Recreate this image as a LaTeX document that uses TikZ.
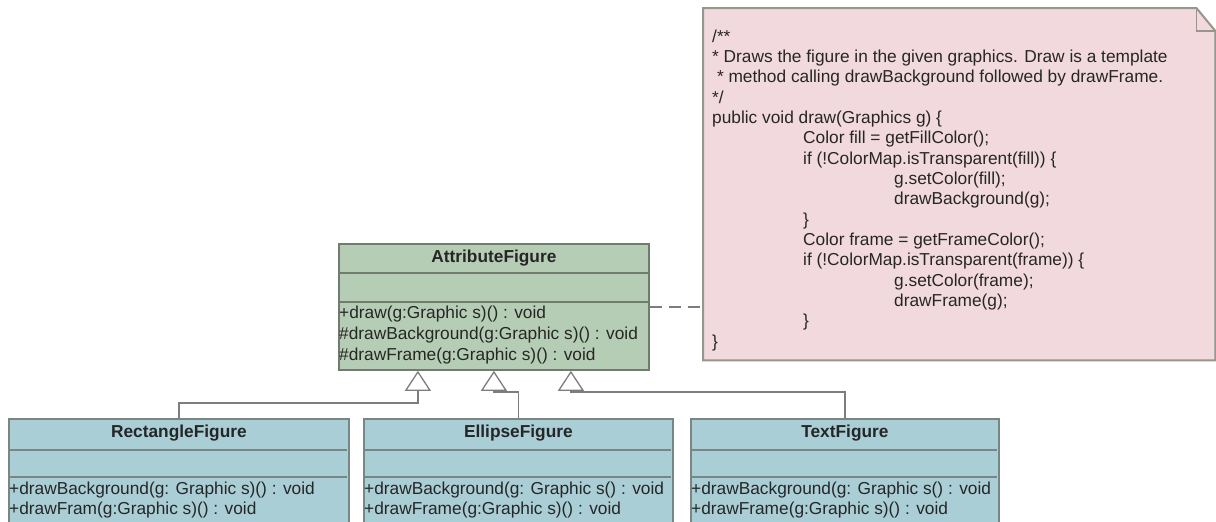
\documentclass[tikz,border=0pt]{standalone}
\usepackage{fontspec}
\setmainfont{Liberation Sans}
\usetikzlibrary{arrows.meta}
\definecolor{greenfill}{RGB}{182,205,181}
\definecolor{greenline}{RGB}{112,124,110}
\definecolor{bluefill}{RGB}{170,206,214}
\definecolor{blueline}{RGB}{122,134,132}
\definecolor{pinkfill}{RGB}{241,217,221}
\definecolor{pinkline}{RGB}{150,150,140}
\definecolor{textc}{RGB}{38,38,38}
\definecolor{connc}{RGB}{125,125,125}
\begin{document}
\begin{tikzpicture}[x=1pt,y=-1pt,
  txt/.style={font=\fontsize{17.3}{20.33}\selectfont, text=textc, inner sep=0pt},
  ttl/.style={txt, font=\fontsize{17.3}{20.33}\selectfont\bfseries},
  greenbox/.style={draw=greenline, fill=greenfill, line width=1.8pt, inner sep=0pt, anchor=north west},
  bluebox/.style={draw=blueline, fill=bluefill, line width=1.8pt, inner sep=0pt, anchor=north west},
  sepg/.style={draw=greenline, line width=1.4pt},
  sepb/.style={draw=blueline, line width=1.4pt},
  inh/.style={draw=connc, line width=1.3pt, -{Triangle[length=20pt,width=26pt,fill=white]}},
  dep/.style={draw=connc, line width=1.6pt, dash pattern=on 12pt off 7pt},
  notebox/.style={draw=pinkline, fill=pinkfill, line width=2pt, line join=miter}
]
\path[use as bounding box, clip] (0,0) rectangle (1216,522);
\fill[white] (0,0) rectangle (1216,522);

% Note
\node[minimum width=512pt, minimum height=352pt, inner sep=0pt, anchor=north west] (note) at (703,8) {};
\path[notebox] (note.north west) -- ([xshift=-19pt]note.north east) -- ([yshift=-23pt]note.north east)
  -- (note.south east) -- (note.south west) -- cycle;
\draw[pinkline, line width=1.4pt] ([xshift=-19pt]note.north east) -- ([xshift=-19pt,yshift=-23pt]note.north east) -- ([yshift=-23pt]note.north east);
\node[txt, align=left, anchor=north west] (notetext) at (712,29.5) {%
/**\\
* Draws the figure in the given graphics. Draw is a template\\
\hspace*{4.8pt}* method calling drawBackground followed by drawFrame.\\
*/\\
public void draw(Graphics g) \{\\
\hspace*{91pt}Color fill = getFillColor();\\
\hspace*{91pt}if (!ColorMap.isTransparent(fill)) \{\\
\hspace*{182pt}g.setColor(fill);\\
\hspace*{182pt}drawBackground(g);\\
\hspace*{91pt}\}\\
\hspace*{91pt}Color frame = getFrameColor();\\
\hspace*{91pt}if (!ColorMap.isTransparent(frame)) \{\\
\hspace*{182pt}g.setColor(frame);\\
\hspace*{182pt}drawFrame(g);\\
\hspace*{91pt}\}\\
\}};

% AttributeFigure
\node[greenbox, minimum width=310pt, minimum height=126pt] (attr) at (338,243) {};
\draw[sepg] ([yshift=-30pt]attr.north west) -- ([yshift=-30pt]attr.north east);
\draw[sepg] ([yshift=-59pt]attr.north west) -- ([yshift=-59pt]attr.north east);
\node[ttl] (attrT) at ([yshift=-15pt]attr.north) {AttributeFigure};
\node[txt, anchor=base west] (attrM1) at (339,318) {+draw(g:Graphic s)() : void};
\node[txt, anchor=base west] (attrM2) at (339,339) {\#drawBackground(g:Graphic s)() : void};
\node[txt, anchor=base west] (attrM3) at (339,360) {\#drawFrame(g:Graphic s)() : void};

% RectangleFigure
\node[bluebox, minimum width=340pt, minimum height=130pt] (rect) at (8,418) {};
\draw[sepb] (9,450) -- (347,450);
\draw[sepb] (9,477) -- (347,477);
\node[ttl] (rectT) at ([yshift=-15pt]rect.north) {RectangleFigure};
\node[txt, anchor=base west] (rectM1) at (9,494) {+drawBackground(g: Graphic s)() : void};
\node[txt, anchor=base west] (rectM2) at (9,514) {+drawFram(g:Graphic s)() : void};

% EllipseFigure
\node[bluebox, minimum width=309pt, minimum height=130pt] (ell) at (363,418) {};
\draw[sepb] (364,450) -- (671,450);
\draw[sepb] (364,477) -- (671,477);
\node[ttl] (ellT) at ([yshift=-15pt]ell.north) {EllipseFigure};
\node[txt, anchor=base west] (ellM1) at (364,494) {+drawBackground(g: Graphic s() : void};
\node[txt, anchor=base west] (ellM2) at (364,514) {+drawFrame(g:Graphic s)() : void};

% TextFigure
\node[bluebox, minimum width=308pt, minimum height=130pt] (textf) at (690,418) {};
\draw[sepb] (691,450) -- (997,450);
\draw[sepb] (691,477) -- (997,477);
\node[ttl] (textT) at ([yshift=-15pt]textf.north) {TextFigure};
\node[txt, anchor=base west] (textM1) at (691,494) {+drawBackground(g: Graphic s() : void};
\node[txt, anchor=base west] (textM2) at (691,514) {+drawFrame(g:Graphic s)() : void};

% Generalizations
\draw[inh] (rect.north) -- ++(0,-15) -| ([xshift=-76pt]attr.south);
\draw[inh] (ell.north) -- ++(0,-26) -| (attr.south);
\draw[inh] (textf.north) -- ++(0,-26) -| ([xshift=77pt]attr.south);

% Note attachment
\draw[dep] (attr.east) -- (attr.east -| note.west);
\end{tikzpicture}
\end{document}
